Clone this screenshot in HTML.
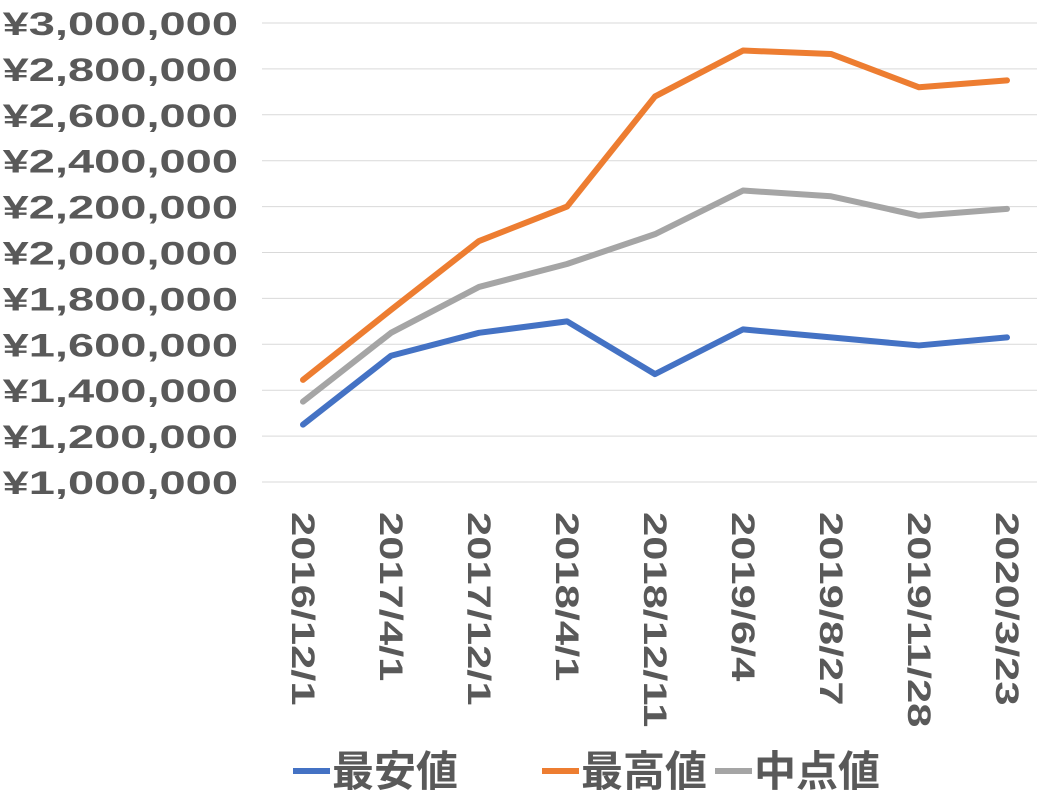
<!DOCTYPE html>
<html><head><meta charset="utf-8"><style>
html,body{margin:0;padding:0;background:#fff;}
svg text{font-family:"Liberation Sans","Noto Sans CJK JP",sans-serif;font-weight:bold;fill:#595959;}
</style></head><body>
<svg id="chart" width="1037" height="795" xmlns="http://www.w3.org/2000/svg"></svg>
<script>
const categories=["2016/12/1","2017/4/1","2017/12/1","2018/4/1","2018/12/11","2019/6/4","2019/8/27","2019/11/28","2020/3/23"];
const lowValues=[1250000,1550000,1650000,1700000,1470000,1665000,1630000,1595000,1630000];
const highValues=[1445000,1750000,2050000,2200000,2680000,2880000,2865000,2720000,2750000];
const midValues=[1350000,1650000,1850000,1950000,2080000,2270000,2245000,2160000,2190000];
const yTicks=[1000000,1200000,1400000,1600000,1800000,2000000,2200000,2400000,2600000,2800000,3000000];
const seriesNames=["最安値","最高値","中点値"];
const NS="http://www.w3.org/2000/svg";
const svg=document.getElementById("chart");
const x0=259,step=88;
function xPos(i){return x0+step/2+i*step;}
function yPos(v){return 482-(v-1000000)/2000000*459;}
function mk(t,a){const e=document.createElementNS(NS,t);for(const k in a)e.setAttribute(k,a[k]);svg.appendChild(e);return e;}
yTicks.forEach((v,i)=>{
 const g=mk("line",{x1:262,x2:1037,y1:yPos(v),y2:yPos(v),stroke:"#d9d9d9","stroke-width":1});
 
 
 const t=mk("text",{x:0,y:0,"text-anchor":"end","font-size":32,transform:`translate(238,${yPos(v)+12}) scale(1.47,1)`});
 t.textContent="¥"+v.toLocaleString("en-US");
 
 
});
categories.forEach((c,i)=>{
 const t=mk("text",{x:0,y:0,"font-size":32,transform:`translate(${xPos(i)-11},512) rotate(90) scale(1.36,1)`});
 t.textContent=c;
 
 
});
const series=[[lowValues,"#4472c4"],[highValues,"#ed7d31"],[midValues,"#a5a5a5"]];
series.forEach(([vals,col],s)=>{
 const p=mk("polyline",{points:vals.map((v,i)=>xPos(i)+","+yPos(v)).join(" "),fill:"none",stroke:col,"stroke-width":6,"stroke-linejoin":"round","stroke-linecap":"round"});
 
 
});
const lx=[293,542,715];
series.forEach(([v,col],s)=>{
 const l=mk("line",{x1:lx[s],x2:lx[s]+37,y1:771,y2:771,stroke:col,"stroke-width":6});
 
 
 const t=mk("text",{x:lx[s]+39,y:786,"font-size":42});
 t.textContent=seriesNames[s];
 
 
});
</script>
</body></html>
